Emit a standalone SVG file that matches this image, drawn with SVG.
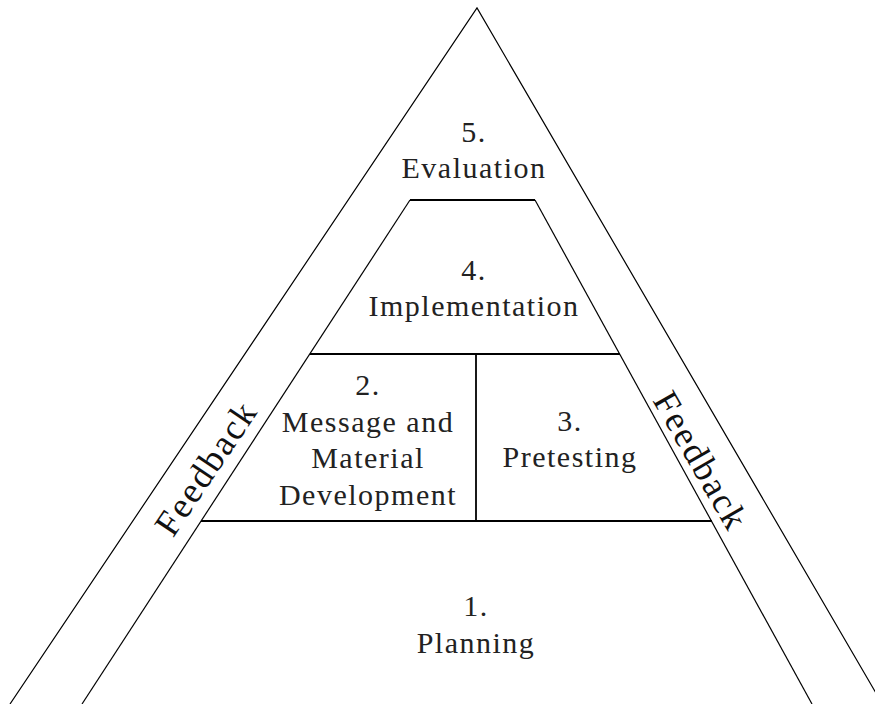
<svg xmlns="http://www.w3.org/2000/svg" width="875" height="704" viewBox="0 0 875 704">
<style>
.ln{stroke:#000;stroke-width:1.2;fill:none}
.hl{stroke:#000;stroke-width:1.8;fill:none}
.t{font-family:"Liberation Serif","Times New Roman",serif;font-size:30px;letter-spacing:1.5px;fill:#222;text-anchor:middle}
.fb{font-family:"Liberation Serif","Times New Roman",serif;font-size:36px;letter-spacing:2px;fill:#111;text-anchor:middle}
</style>
<rect width="875" height="704" fill="#fff"/>
<g id="connectors">
<path class="ln" d="M10,704 L477,8 L887,712"/>
<path class="ln" d="M82,704 L410,200"/>
<path class="ln" d="M535,200 L812,704"/>
<path class="hl" d="M410,200 L535,200"/>
<path class="hl" d="M310,354 L620,354"/>
<path class="hl" d="M201,521 L712,521"/>
<path class="hl" d="M476,354 L476,521"/>
</g>
<g id="evaluation"><text class="t" x="474" y="142">5.</text><text class="t" x="474" y="178">Evaluation</text></g>
<g id="implementation"><text class="t" x="474" y="280">4.</text><text class="t" x="474" y="316">Implementation</text></g>
<g id="message"><text class="t" x="368" y="395">2.</text><text class="t" x="368" y="432">Message and</text><text class="t" x="368" y="468">Material</text><text class="t" x="368" y="505">Development</text></g>
<g id="pretesting"><text class="t" x="570" y="431">3.</text><text class="t" x="570" y="467">Pretesting</text></g>
<g id="planning"><text class="t" x="476" y="616">1.</text><text class="t" x="476" y="653">Planning</text></g>
<g id="feedback-left"><text class="fb" transform="translate(206,468) rotate(-56)" x="0" y="12">Feedback</text></g>
<g id="feedback-right"><text class="fb" transform="translate(701,461) rotate(60)" x="0" y="12">Feedback</text></g>
</svg>
